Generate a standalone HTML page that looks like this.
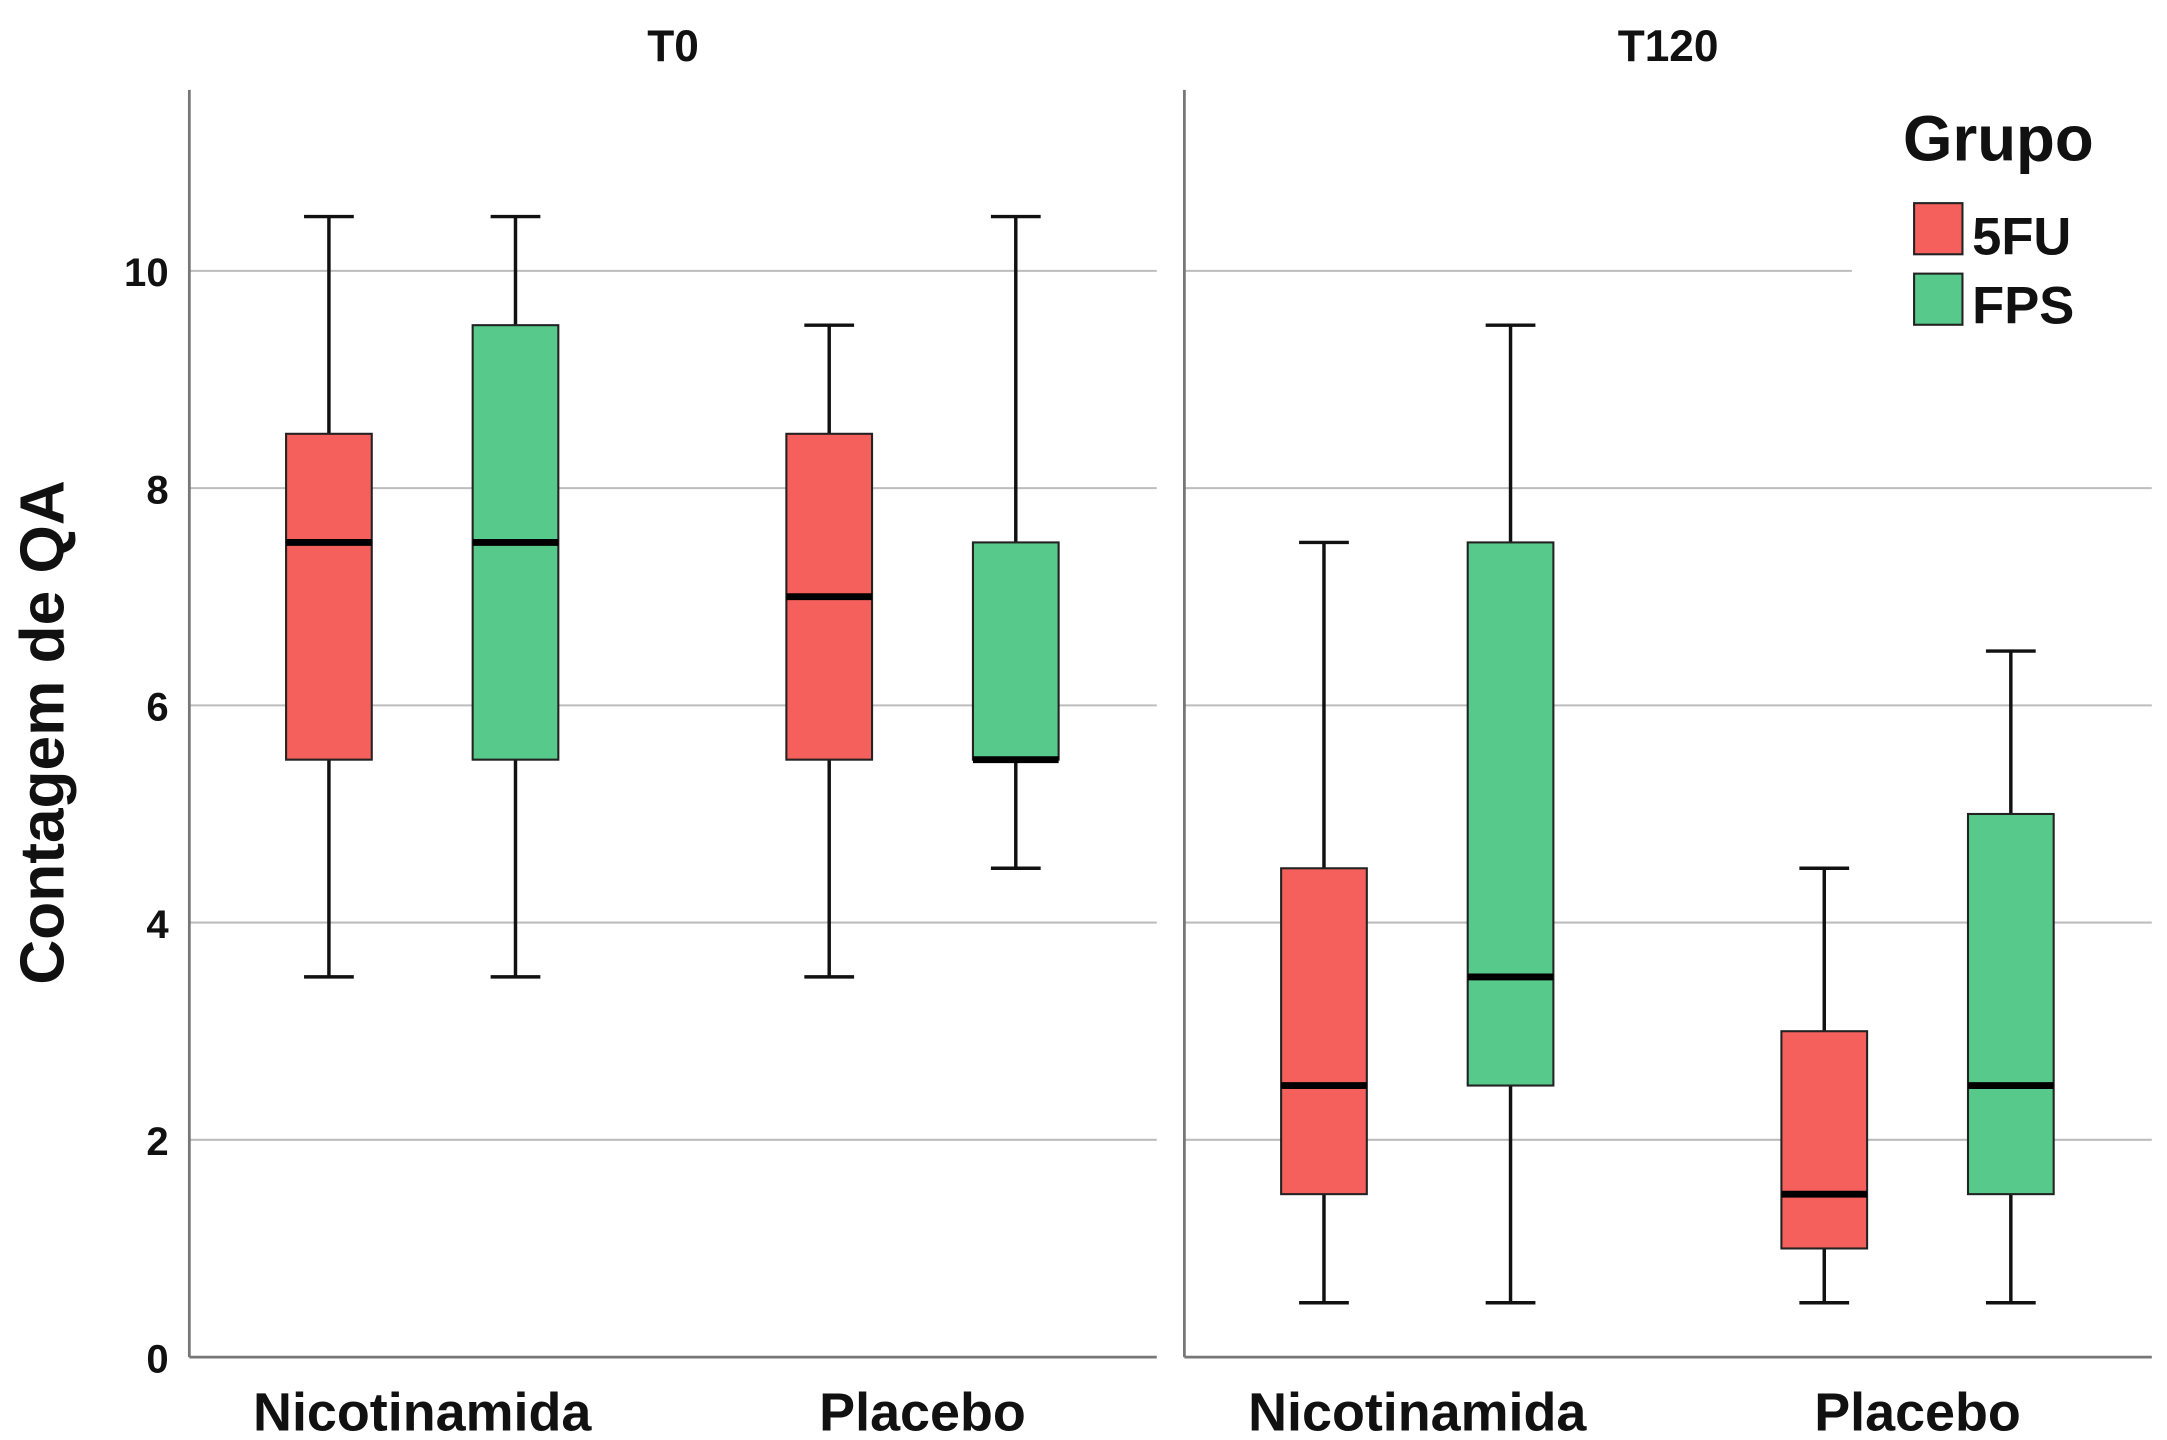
<!DOCTYPE html>
<html><head><meta charset="utf-8"><style>
html,body{margin:0;padding:0;background:#fff;}
svg{display:block;font-family:"Liberation Sans",Arial,sans-serif;}
</style></head><body>
<svg id="chart" width="2167" height="1440" viewBox="0 0 1568 1042" preserveAspectRatio="none" xmlns="http://www.w3.org/2000/svg">
<rect width="1568" height="1042" fill="#fff"/>
<g id="grid"></g>
<g id="axes"></g>
<g id="boxes"></g>
<g id="labels"></g>
<text transform="translate(46,530) rotate(-90)" text-anchor="middle" font-size="45" font-weight="bold" fill="#111">Contagem de QA</text>
<g>
<text x="1377" y="116" font-size="46" font-weight="bold" fill="#111">Grupo</text>
<rect x="1385" y="147" width="35" height="37" fill="#f5605c" stroke="#222" stroke-width="1.5"/>
<text x="1427" y="184" font-size="38" font-weight="bold" fill="#111">5FU</text>
<rect x="1385" y="198" width="35" height="37" fill="#57c98a" stroke="#222" stroke-width="1.5"/>
<text x="1427" y="234" font-size="38" font-weight="bold" fill="#111">FPS</text>
</g>
</svg>
<script>
const panels = ["T0","T120"];
const categories = ["Nicotinamida","Placebo"];
const groups = ["5FU","FPS"];
const yTicks = [0,2,4,6,8,10];
// [min, q1, median, q3, max] per panel, category, group
const t0Nic5FU = [3.5,5.5,7.5,8.5,10.5];
const t0NicFPS = [3.5,5.5,7.5,9.5,10.5];
const t0Pla5FU = [3.5,5.5,7,8.5,9.5];
const t0PlaFPS = [4.5,5.5,5.5,7.5,10.5];
const t120Nic5FU = [0.5,1.5,2.5,4.5,7.5];
const t120NicFPS = [0.5,2.5,3.5,7.5,9.5];
const t120Pla5FU = [0.5,1,1.5,3,4.5];
const t120PlaFPS = [0.5,1.5,2.5,5,6.5];
const series = [[[t0Nic5FU,t0NicFPS],[t0Pla5FU,t0PlaFPS]],[[t120Nic5FU,t120NicFPS],[t120Pla5FU,t120PlaFPS]]];

const NS="http://www.w3.org/2000/svg";
const panelX=[137,857], panelW=700, yTop=65, yBase=982, pxPerUnit=78.6;
const y = v => yBase - v*pxPerUnit;
const colors={"5FU":"#f5605c","FPS":"#57c98a"};
function el(tag,attrs,parent,text){const e=document.createElementNS(NS,tag);for(const k in attrs)e.setAttribute(k,attrs[k]);if(text!==undefined)e.textContent=text;parent.appendChild(e);return e;}
const grid=document.getElementById('grid'),axes=document.getElementById('axes'),boxes=document.getElementById('boxes'),labels=document.getElementById('labels');
const xPos=(p,c,g)=>panelX[p]+101+c*362+g*135;
panels.forEach((pn,p)=>{
  const x0=panelX[p];
  yTicks.forEach(t=>{ if(t===0)return;
    const x2=(p===1&&t===10)?1340:x0+panelW;
    const gl=el('line',{x1:x0,x2:x2,y1:y(t),y2:y(t),stroke:'#bdbdbd','stroke-width':1.5},grid);
    
    
  });
  const ax=el('line',{x1:x0,x2:x0,y1:yTop,y2:yBase,stroke:'#777','stroke-width':2},axes);
  
  
  const bx=el('line',{x1:x0,x2:x0+panelW,y1:yBase,y2:yBase,stroke:'#777','stroke-width':2},axes);
  
  
  const tt=el('text',{x:x0+350,y:44,'text-anchor':'middle','font-size':32,'font-weight':'bold',fill:'#111'},labels,pn);
  
  
  categories.forEach((c,ci)=>{
    const cx=(xPos(p,ci,0)+xPos(p,ci,1))/2;
    const cl=el('text',{x:cx,y:1035,'text-anchor':'middle','font-size':39,'font-weight':'bold',fill:'#111'},labels,c);
    
    
    groups.forEach((g,gi)=>{
      const d=series[p][ci][gi], cxx=xPos(p,ci,gi), w=62, cap=36;
      const gr=el('g',{},boxes);
      
      
      const st={stroke:'#111','stroke-width':2.5};
      el('line',Object.assign({x1:cxx,x2:cxx,y1:y(d[0]),y2:y(d[4])},st),gr);
      el('line',Object.assign({x1:cxx-cap/2,x2:cxx+cap/2,y1:y(d[0]),y2:y(d[0])},st),gr);
      el('line',Object.assign({x1:cxx-cap/2,x2:cxx+cap/2,y1:y(d[4]),y2:y(d[4])},st),gr);
      el('rect',{x:cxx-w/2,y:y(d[3]),width:w,height:y(d[1])-y(d[3]),fill:colors[g],stroke:'#222','stroke-width':1.5},gr);
      el('line',{x1:cxx-w/2,x2:cxx+w/2,y1:y(d[2]),y2:y(d[2]),stroke:'#000','stroke-width':5},gr);
    });
  });
});
yTicks.forEach(t=>{
  const tl=el('text',{x:122,y:y(t)+11,'text-anchor':'end','font-size':29,'font-weight':'bold',fill:'#111'},labels,String(t));
  
  
});
</script>
</body></html>
